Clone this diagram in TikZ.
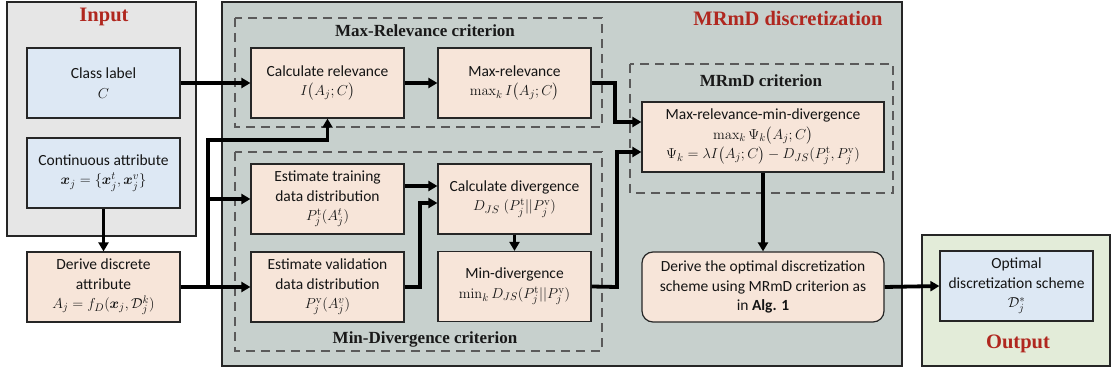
\documentclass[tikz,border=0pt]{standalone}
\usepackage{amsmath}
\usepackage[no-math]{fontspec}
\setmainfont{Carlito}
\newfontfamily\headfont{Liberation Serif}
\usetikzlibrary{arrows.meta}

\definecolor{inputbg}{HTML}{E6E6E6}
\definecolor{mainbg}{HTML}{C7D0CD}
\definecolor{outbg}{HTML}{E3ECD9}
\definecolor{bluebox}{HTML}{DDE8F4}
\definecolor{peachbox}{HTML}{F7E5D9}
\definecolor{titlered}{HTML}{B0271F}
\definecolor{dashgray}{HTML}{5A5A5A}

\tikzset{
  box/.style={draw=black!85, line width=1.2pt, minimum width=153pt, minimum height=70pt,
    inner sep=2pt, align=center, text=black!92, font=\fontsize{15.5}{19.5}\selectfont},
  inbox/.style={box, fill=bluebox},
  procbox/.style={box, fill=peachbox},
  panel/.style={draw=black!85, line width=2pt},
  group/.style={draw=dashgray, line width=1.6pt, dash pattern=on 9pt off 6pt},
  paneltitle/.style={text=titlered, font=\headfont\bfseries\fontsize{20.5}{24}\selectfont},
  grouptitle/.style={text=black!90, font=\headfont\bfseries\fontsize{17}{20}\selectfont},
  flow/.style={line width=3.8pt, -{Triangle[length=9pt,width=10pt]}},
}

\begin{document}
\begin{tikzpicture}[x=1pt,y=-1pt]
\useasboundingbox (0,0) rectangle (1113,371);

% panels
\draw[panel, fill=inputbg] (7,2) rectangle (196,236);
\draw[panel, fill=mainbg] (222,2) rectangle (902,366);
\draw[panel, fill=outbg] (922,235) rectangle (1110,366);

% dashed criterion groups
\draw[group] (235,18) rectangle (602,127);
\draw[group] (235,152) rectangle (602,351);
\draw[group] (630,64) rectangle (893,193);

% titles
\node[paneltitle] (tin) at (104,17) {Input};
\node[paneltitle] (tmain) at (788,18) {MRmD discretization};
\node[paneltitle] (tout) at (1018,344) {Output};
\node[grouptitle] (tmr) at (425,31) {Max-Relevance criterion};
\node[grouptitle] (tmd) at (425,339) {Min-Divergence criterion};
\node[grouptitle] (tcrit) at (761,81) {MRmD criterion};

% input boxes
\node[inbox] (cls) at (103.5,83) {Class label\\ $C$};
\node[inbox] (cont) at (103.5,173) {Continuous attribute\\ $\boldsymbol{x}_j=\{\boldsymbol{x}_j^{t},\boldsymbol{x}_j^{v}\}$};
\node[procbox] (derive) at (103.5,287) {Derive discrete\\ attribute\\ $A_j=f_D(\boldsymbol{x}_j,\mathcal{D}_j^{k})$};

% max-relevance
\node[procbox] (calcrel) at (327.5,83) {Calculate relevance\\ $I\big(A_j;C\big)$};
\node[procbox] (maxrel) at (514.5,83) {Max-relevance\\ $\max_k I\big(A_j;C\big)$};

% min-divergence
\node[procbox] (train) at (327.5,199) {Estimate training\\ data distribution\\ $P_j^{\mathrm{t}}(A_j^{t})$};
\node[procbox] (valid) at (327.5,287) {Estimate validation\\ data distribution\\ $P_j^{\mathrm{v}}(A_j^{v})$};
\node[procbox] (calcdiv) at (514.5,199) {Calculate divergence\\ $D_{JS}\;(P_j^{\mathrm{t}}||P_j^{\mathrm{v}})$};
\node[procbox] (mindiv) at (514.5,286.5) {Min-divergence\\ $\min_k D_{JS}(P_j^{\mathrm{t}}||P_j^{\mathrm{v}})$};

% MRmD criterion and result
\node[procbox, minimum width=242pt] (mrmd) at (763,137) {Max-relevance-min-divergence\\ $\max_k \Psi_k\big(A_j;C\big)$\\ $\Psi_k=\lambda I\big(A_j;C\big)-D_{JS}(P_j^{\mathrm{t}},P_j^{\mathrm{v}})$};
\node[procbox, minimum width=242pt, rounded corners=11pt] (optim) at (763,287) {Derive the optimal discretization\\ scheme using MRmD criterion as\\ in \textbf{Alg. 1}};
\node[inbox] (out) at (1016.5,286) {Optimal\\ discretization scheme\\ $\mathcal{D}_j^{*}$};

% bend points
\coordinate (split) at (208,287);
\coordinate (tap) at (208,140);
\coordinate (relbend) at (615,83);
\coordinate (divbend) at (617,287);
\coordinate (valbend) at (420,287);
\coordinate (mrin1) at ([yshift=15pt]mrmd.west);
\coordinate (mrin2) at ([yshift=-15pt]mrmd.west);
\coordinate (trout) at ([yshift=13pt]train.east);
\coordinate (cdin2) at ([yshift=-4pt]calcdiv.west);

% connectors
\draw[flow] (cls.east) -- (calcrel.west);
\draw[flow] (cont.south) -- (derive.north);
\draw[flow] (derive.east) -- (valid.west);
\draw[flow] (split) |- (train.west);
\draw[flow] (split) -- (tap) -| (calcrel.south);
\draw[flow] (calcrel.east) -- (maxrel.west);
\draw[flow] (maxrel.east) -- (relbend) |- (mrin1);
\draw[flow] (trout) -- (trout -| calcdiv.west);
\draw[flow] (valid.east) -- (valbend) |- (cdin2);
\draw[flow] (calcdiv.south) -- (mindiv.north);
\draw[flow] (mindiv.east) -- (divbend) |- (mrin2);
\draw[flow] (mrmd.south) -- (optim.north);
\draw[flow] (optim.east) -- (out.west);
\end{tikzpicture}
\end{document}
